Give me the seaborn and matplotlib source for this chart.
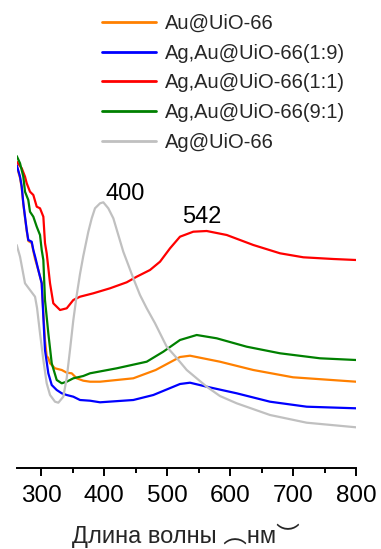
import numpy as np
import pandas as pd
import matplotlib
matplotlib.use("Agg")
import matplotlib.pyplot as plt
import seaborn as sns

# ---------------- data ----------------
series_names = ["Au@UiO-66", "Ag,Au@UiO-66(1:9)", "Ag,Au@UiO-66(1:1)",
                "Ag,Au@UiO-66(9:1)", "Ag@UiO-66"]
series_colors = ["#FF8000", "#0000FF", "#FF0000", "#008000", "#C0C0C0"]

wl_au = [261.4, 266.7, 269.4, 271.9, 274.6, 277.3, 279.8, 285.2, 287.8, 290.5,
         295.7, 301.1, 303.7, 306.3, 309.0, 311.6, 314.3, 322.2, 332.9, 340.8,
         348.7, 356.7, 367.1, 377.8, 393.7, 446.5, 482.0, 520.6, 536.5, 584.0,
         637.0, 700.0, 800.0]
abs_au = [3.02, 2.90, 2.80, 2.64, 2.50, 2.37, 2.27, 2.25, 2.17, 2.09,
          1.98, 1.85, 1.55, 1.28, 1.12, 1.10, 1.047, 0.997, 0.98, 0.953,
          0.947, 0.897, 0.873, 0.863, 0.863, 0.897, 0.98, 1.11, 1.123, 1.063,
          0.98, 0.907, 0.863]

wl_19 = [261.4, 266.7, 269.4, 271.9, 274.6, 277.3, 279.8, 285.2, 287.8, 291.2,
         295.7, 301.1, 303.7, 306.3, 311.6, 317.0, 324.9, 332.9, 340.8, 351.3,
         361.9, 377.8, 393.7, 446.5, 478.3, 520.6, 536.5, 563.0, 610.6, 663.5,
         721.7, 800.0]
abs_19 = [3.03, 2.913, 2.813, 2.647, 2.513, 2.38, 2.28, 2.263, 2.18, 2.10,
          1.98, 1.847, 1.513, 1.18, 0.947, 0.83, 0.78, 0.747, 0.73, 0.713,
          0.68, 0.673, 0.657, 0.68, 0.73, 0.84, 0.853, 0.813, 0.747, 0.663,
          0.613, 0.597]

wl_11 = [261.4, 269.4, 274.6, 277.3, 282.5, 287.8, 293.2, 298.4, 303.7, 306.3,
         309.0, 314.3, 319.5, 330.2, 340.8, 351.3, 361.9, 383.0, 409.5, 436.0,
         451.9, 473.0, 488.9, 504.8, 520.6, 541.7, 563.0, 594.8, 637.0, 679.4,
         716.4, 764.0, 800.0]
abs_11 = [3.063, 2.997, 2.913, 2.847, 2.763, 2.73, 2.613, 2.597, 2.513, 2.25,
          2.147, 1.847, 1.647, 1.58, 1.597, 1.68, 1.713, 1.747, 1.797, 1.857,
          1.913, 1.98, 2.063, 2.197, 2.313, 2.363, 2.37, 2.33, 2.23, 2.147,
          2.107, 2.09, 2.08]

wl_91 = [261.4, 266.7, 271.9, 274.6, 279.8, 282.5, 287.8, 293.2, 298.4, 301.1,
         303.7, 306.3, 311.6, 317.0, 324.9, 332.9, 340.8, 351.3, 367.1, 377.8,
         420.2, 467.8, 494.1, 520.6, 547.1, 578.9, 626.5, 679.4, 742.9, 800.0]
abs_91 = [3.12, 3.047, 2.913, 2.763, 2.68, 2.563, 2.513, 2.413, 2.33, 2.18,
          2.08, 1.68, 1.347, 1.047, 0.88, 0.847, 0.863, 0.897, 0.92, 0.947,
          0.997, 1.063, 1.163, 1.28, 1.33, 1.297, 1.213, 1.147, 1.097, 1.08]

wl_ag = [261.4, 266.7, 274.6, 282.5, 290.5, 293.7, 298.4, 303.7, 309.0, 314.3,
         322.2, 327.5, 335.4, 340.8, 346.0, 351.3, 356.7, 361.9, 367.1, 375.1,
         380.5, 385.7, 393.7, 398.9, 406.8, 414.8, 422.7, 430.6, 438.6, 446.5,
         457.1, 467.8, 481.0, 499.5, 515.4, 531.3, 563.0, 584.0, 610.6, 663.5,
         721.7, 800.0]
abs_ag = [2.23, 2.113, 1.847, 1.78, 1.713, 1.60, 1.347, 1.08, 0.847, 0.73,
          0.663, 0.653, 0.713, 0.90, 1.18, 1.48, 1.73, 1.94, 2.12, 2.363,
          2.497, 2.597, 2.647, 2.657, 2.597, 2.497, 2.33, 2.163, 2.03, 1.897,
          1.73, 1.597, 1.447, 1.213, 1.10, 0.98, 0.813, 0.72, 0.647, 0.53,
          0.453, 0.407]

peak_labels = ["400", "542"]
peak_pos_x = [433, 556]
peak_pos_y = [2.68, 2.447]

x_ticks = [300, 400, 500, 600, 700, 800]
x_minor = [350, 450, 550, 650, 750]
x_label = "Длина волны ︵нм︶"

# ---------------- build table ----------------
frames = []
for name, wl, ab in zip(series_names,
                        [wl_au, wl_19, wl_11, wl_91, wl_ag],
                        [abs_au, abs_19, abs_11, abs_91, abs_ag]):
    frames.append(pd.DataFrame({"wl": wl, "A": ab, "sample": name}))
df = pd.concat(frames, ignore_index=True)

# ---------------- style ----------------
sns.set_style("white")
plt.rcParams["font.family"] = ["Liberation Sans", "Noto Sans CJK SC", "DejaVu Sans"]

W, H = 381, 549
fig = plt.figure(figsize=(W / 100, H / 100), dpi=100)
left, right, bottom, top = 16.7, 356, 468, 150
ax = fig.add_axes([left / W, (H - bottom) / H, (right - left) / W, (bottom - top) / H])

sns.lineplot(data=df, x="wl", y="A", hue="sample", hue_order=series_names,
             palette=series_colors, estimator=None, sort=False, linewidth=1.6,
             ax=ax, legend=True)

ax.set_xlim(261.4, 800)
ax.set_ylim(0, (bottom - top) / 100)

for s in ["left", "right", "top"]:
    ax.spines[s].set_visible(False)
ax.spines["bottom"].set_linewidth(1.4)
ax.spines["bottom"].set_color("black")
ax.set_yticks([])
ax.set_xticks(x_ticks)
ax.set_xticks(x_minor, minor=True)
ax.tick_params(axis="x", which="major", direction="out", length=6, width=1.4,
               labelsize=17.5, pad=6, colors="black", bottom=True)
ax.tick_params(axis="x", which="minor", direction="out", length=3.6, width=1.4,
               bottom=True, colors="black")
ax.set_xlabel("")
ax.set_ylabel("")

for lab, px, py in zip(peak_labels, peak_pos_x, peak_pos_y):
    ax.text(px, py, lab, ha="center", va="baseline", fontsize=17, color="black")

handles, labels = ax.get_legend_handles_labels()
if ax.legend_:
    ax.legend_.remove()
leg = fig.legend(handles, labels, loc="upper left",
                 bbox_to_anchor=(101.7 / W, 1 - 14 / H), frameon=False,
                 fontsize=14.5, handlelength=2.7, handletextpad=0.42,
                 labelspacing=0.53, borderpad=0, borderaxespad=0)
for l in leg.get_lines():
    l.set_linewidth(2)

fig.text(186 / W, (H - 543) / H, x_label, ha="center", va="baseline",
         fontsize=17)

fig.savefig("out.png", dpi=100)
